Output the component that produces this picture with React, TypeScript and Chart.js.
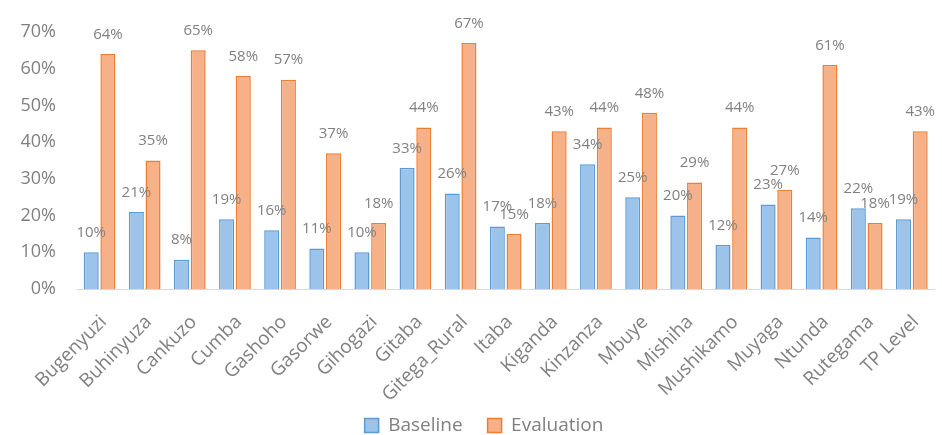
import React, { useEffect, useRef } from "react";
import { Chart, registerables } from "chart.js";

Chart.register(...registerables);

const categories = [
  "Bugenyuzi", "Buhinyuza", "Cankuzo", "Cumba", "Gashoho", "Gasorwe", "Gihogazi",
  "Gitaba", "Gitega_Rural", "Itaba", "Kiganda", "Kinzanza", "Mbuye", "Mishiha",
  "Mushikamo", "Muyaga", "Ntunda", "Rutegama", "TP Level",
];
const baseline = [10, 21, 8, 19, 16, 11, 10, 33, 26, 17, 18, 34, 25, 20, 12, 23, 14, 22, 19];
const evaluation = [64, 35, 65, 58, 57, 37, 18, 44, 67, 15, 43, 44, 48, 29, 44, 27, 61, 18, 43];
const yTicks = [0, 10, 20, 30, 40, 50, 60, 70];

const FONT = "'Open Sans', Lato, sans-serif";
const GRAY = "#808080";
const W = 942;
const H = 445;
const LEGEND_PAD = 25;
const LEGEND_FONT = 19;

const labelPlugin = {
  id: "barLabels",
  afterLayout(chart: any) {
    if (chart.legend) {
      chart.legend.left += 28;
    }
  },
  afterDatasetsDraw(chart: any) {
    const ctx = chart.ctx;
    ctx.save();
    ctx.font = `15px ${FONT}`;
    ctx.fillStyle = GRAY;
    ctx.textAlign = "center";
    ctx.textBaseline = "bottom";
    chart.data.datasets.forEach((ds: any, di: number) => {
      const meta = chart.getDatasetMeta(di);
      meta.data.forEach((bar: any, i: number) => {
        ctx.fillText(ds.data[i] + "%", bar.x, bar.y - 12);
      });
    });
    ctx.restore();
  },
};

export default function App() {
  const ref = useRef<HTMLCanvasElement>(null);
  useEffect(() => {
    if (!ref.current) return;
    const chart = new Chart(ref.current, {
      type: "bar",
      data: {
        labels: categories,
        datasets: [
          {
            label: "Baseline",
            data: baseline,
            backgroundColor: "#9cc3ea",
            borderColor: "#5b9bd5",
            borderWidth: 1.5,
          },
          {
            label: "Evaluation",
            data: evaluation,
            backgroundColor: "#f7b189",
            borderColor: "#ed7d31",
            borderWidth: 1.5,
          },
        ],
      },
      options: {
        animation: false,
        responsive: false,
        maintainAspectRatio: false,
        layout: { padding: { top: 32, right: 2, left: 0, bottom: 0 } },
        datasets: { bar: { categoryPercentage: 0.74, barPercentage: 0.9 } },
        plugins: {
          legend: {
            position: "bottom",
            labels: {
              font: { family: FONT, size: LEGEND_FONT },
              color: GRAY,
              boxWidth: 14,
              boxHeight: 14,
              padding: LEGEND_PAD,
            },
          },
          tooltip: { enabled: false },
        },
        scales: {
          x: {
            grid: { display: false },
            border: { display: true, color: "#d9d9d9" },
            ticks: {
              font: { family: FONT, size: 19 },
              color: GRAY,
              minRotation: 45,
              maxRotation: 45,
              autoSkip: false,
              padding: 14,
              labelOffset: 4,
            },
            afterFit(scale: any) {
              scale.height = H - (LEGEND_FONT + LEGEND_PAD + 10) - 289;
              scale._computeLabelArea = () => undefined;
            },
          },
          y: {
            min: 0,
            max: 70,
            grid: { display: false },
            border: { display: false },
            afterBuildTicks(scale: any) {
              scale.ticks = yTicks.map((v) => ({ value: v }));
            },
            ticks: {
              font: { family: FONT, size: 18 },
              color: GRAY,
              padding: 13,
              callback: (v: any) => v + "%",
            },
            afterFit(scale: any) {
              scale.width = 77;
              scale._computeLabelArea = () => undefined;
            },
          },
        },
      },
      plugins: [labelPlugin],
    });
    return () => chart.destroy();
  }, []);
  return (
    <div style={{ position: "absolute", left: 0, top: 0, width: W, height: H, background: "#fff" }}>
      <canvas ref={ref} width={W} height={H} style={{ width: W, height: H, display: "block" }} />
    </div>
  );
}
